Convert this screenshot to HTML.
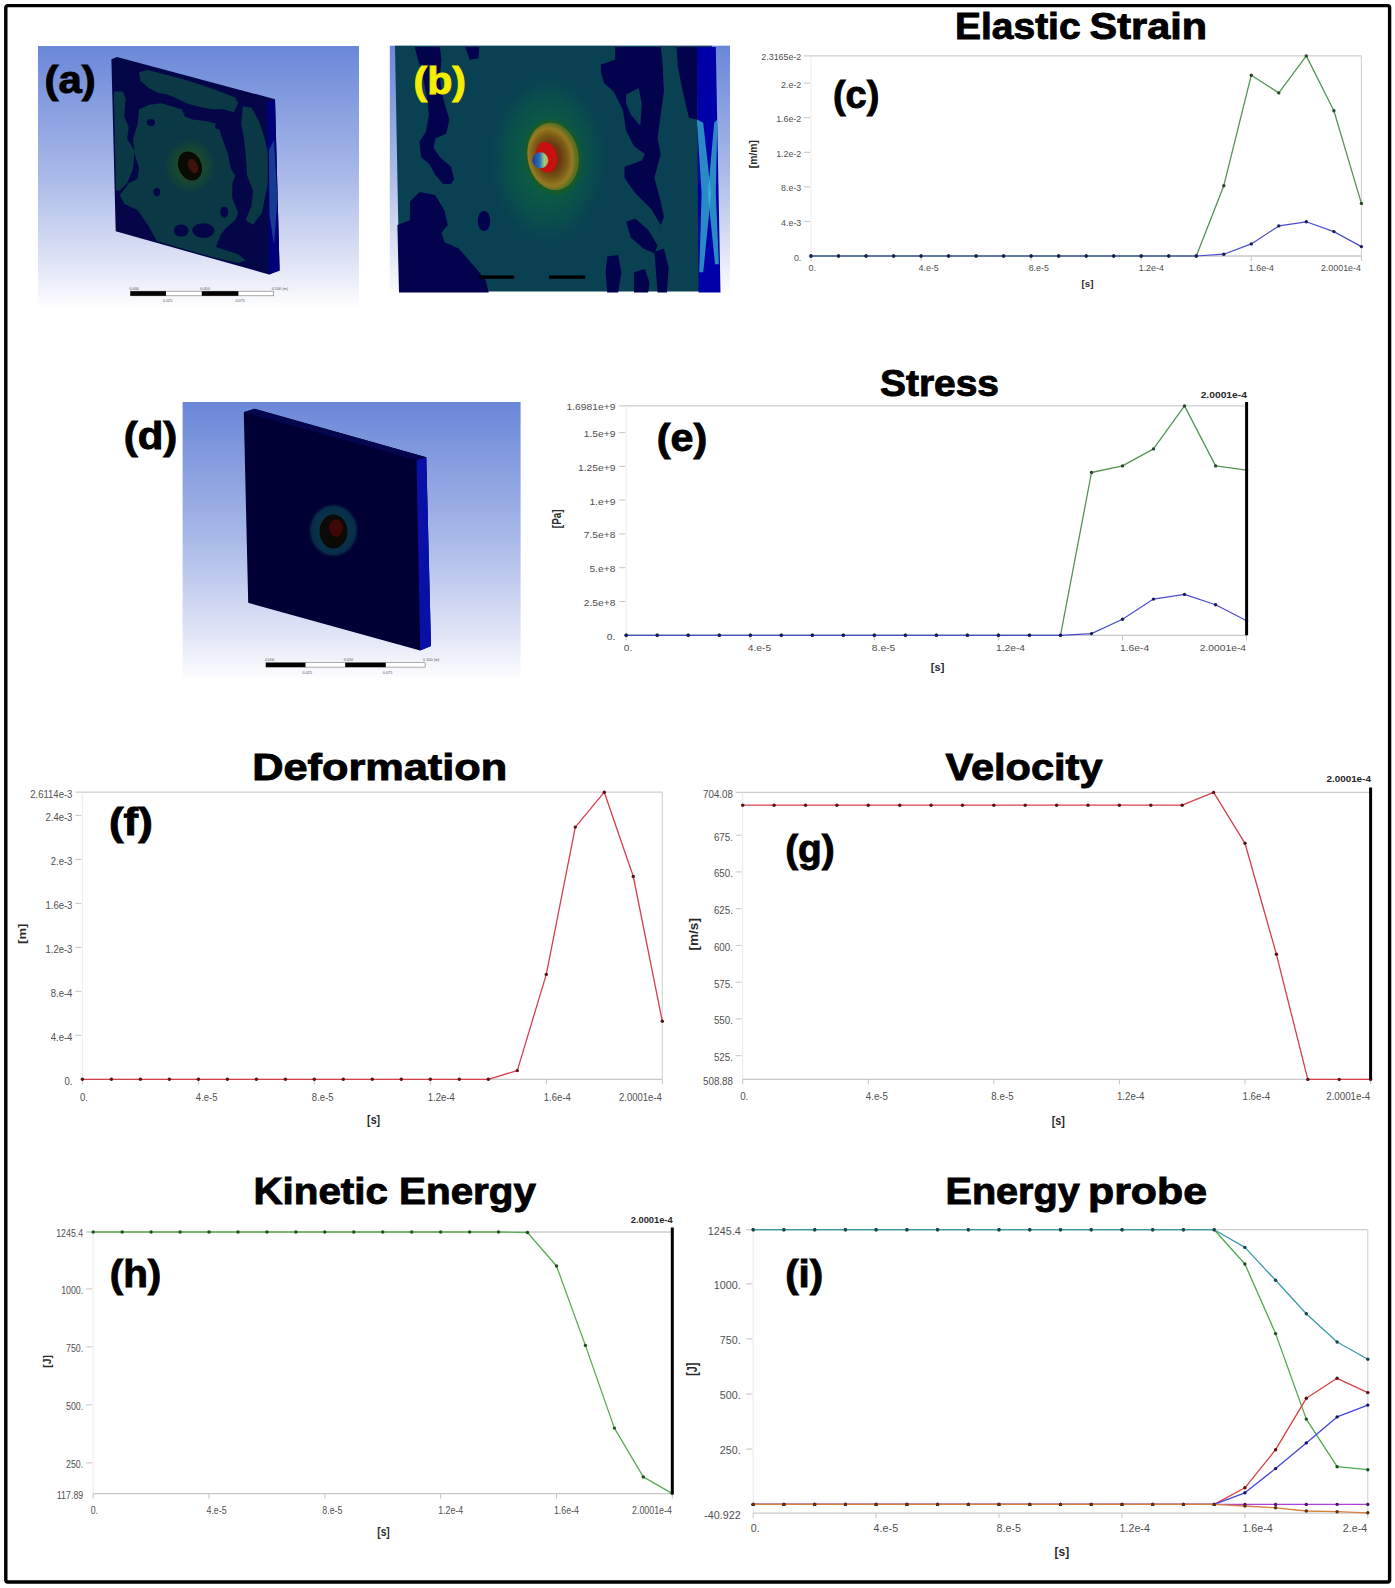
<!DOCTYPE html>
<html><head><meta charset="utf-8"><title>Figure</title>
<style>html,body{margin:0;padding:0;background:#fff;width:1395px;height:1588px;overflow:hidden}svg{display:block} text{font-family:"Liberation Sans", sans-serif}</style>
</head><body>
<svg width="1395" height="1588" viewBox="0 0 1395 1588" style="font-family:'Liberation Sans', sans-serif">
<defs><linearGradient id="bgA" x1="0" y1="0" x2="0" y2="1"><stop offset="0" stop-color="#6a87d8"/><stop offset="0.5" stop-color="#a9b9e8"/><stop offset="0.85" stop-color="#e2e6f6"/><stop offset="1" stop-color="#fdfdff"/></linearGradient><radialGradient id="hotA" cx="0.5" cy="0.5" r="0.5"><stop offset="0" stop-color="#6a1410"/><stop offset="0.5" stop-color="#200c06"/><stop offset="0.8" stop-color="#0e1a0c"/><stop offset="1" stop-color="#163a24" stop-opacity="0"/></radialGradient><radialGradient id="glowA" cx="0.5" cy="0.5" r="0.5"><stop offset="0" stop-color="#2a4a18"/><stop offset="0.45" stop-color="#1c4a2c"/><stop offset="0.75" stop-color="#124438" stop-opacity="0.7"/><stop offset="1" stop-color="#0a3844" stop-opacity="0"/></radialGradient><radialGradient id="hotB" cx="0.45" cy="0.5" r="0.5"><stop offset="0" stop-color="#7a1a0c"/><stop offset="0.4" stop-color="#6a3a10"/><stop offset="0.65" stop-color="#7a5a16"/><stop offset="0.85" stop-color="#967a22"/><stop offset="1" stop-color="#5a7020"/></radialGradient><radialGradient id="ringB" cx="0.5" cy="0.5" r="0.5"><stop offset="0.7" stop-color="#1a6a20"/><stop offset="1" stop-color="#1a6a40" stop-opacity="0"/></radialGradient><radialGradient id="glowB" cx="0.5" cy="0.5" r="0.5"><stop offset="0" stop-color="#0e6a36"/><stop offset="0.35" stop-color="#0c5c44"/><stop offset="0.7" stop-color="#0a504a" stop-opacity="0.85"/><stop offset="1" stop-color="#094152" stop-opacity="0"/></radialGradient><linearGradient id="ballB" x1="0" y1="0" x2="1" y2="0"><stop offset="0" stop-color="#1a3a9a"/><stop offset="0.45" stop-color="#2a70b0"/><stop offset="0.75" stop-color="#9ac890"/><stop offset="1" stop-color="#c8b040"/></linearGradient><radialGradient id="ringD" cx="0.5" cy="0.5" r="0.5"><stop offset="0.5" stop-color="#0c4850"/><stop offset="0.85" stop-color="#0a3a50"/><stop offset="1" stop-color="#010136" stop-opacity="0"/></radialGradient></defs>
<rect x="0" y="0" width="1395" height="1588" fill="#fff"/>
<rect x="38" y="46" width="321" height="260" fill="url(#bgA)"/>
<polygon points="111.4,59.2 117,57 275,99.2 279.6,270.5 269,274.5 115.7,231.3" fill="#040648"/>
<polygon points="267,101.5 275,99.2 279.6,270.5 269,274.5" fill="#00007a"/>
<polygon points="269,150 274,140 277.5,200 274,245 269.5,215" fill="#2a78a8" opacity="0.5"/>
<clipPath id="clipA"><polygon points="113,61 268,101 268.5,273 117,230"/></clipPath>
<g clip-path="url(#clipA)" fill="#0a3844">
<polygon points="139.0,72.2 149.4,69.2 171.6,75.2 193.8,82.6 216.0,90.0 235.3,97.4 238.2,103.3 233.8,112.2 223.4,109.2 211.6,109.2 196.8,106.2 186.4,103.3 174.6,97.4 167.2,94.4 158.3,92.9 149.4,88.5 140.5,81.1"/>
<polygon points="113.9,91.4 122.8,91.4 125.7,98.8 124.2,116.6 128.7,127.0 127.2,138.8 134.6,150.7 133.1,168.4 127.2,183.2 119.8,190.6 113.9,190.6"/>
<polygon points="139.0,109.2 149.4,104.8 161.2,103.3 171.6,106.2 182.0,109.2 184.9,116.6 192.3,119.6 205.7,121.0 217.5,124.0 220.5,132.9 223.4,141.8 227.9,153.6 230.8,168.4 235.3,175.8 232.3,183.2 232.3,198.0 235.3,205.4 238.2,212.8 235.3,220.2 226.4,227.6 220.5,235.0 216.0,246.9 238.2,254.3 245.6,260.2 238.2,263.1 193.8,252.8 156.8,240.9 149.4,227.6 137.6,209.9 124.2,203.9 119.8,195.1 128.7,183.2 137.6,178.8 139.0,168.4 134.6,153.6 133.1,138.8 137.6,124.0"/>
<polygon points="242.7,106.2 251.5,107.7 258.9,121.0 264.9,138.8 267.8,153.6 267.8,183.2 264.9,198.0 261.9,212.8 253.0,224.7 245.6,220.2 251.5,205.4 253.0,190.6 247.1,175.8 245.6,153.6 244.1,138.8 241.2,124.0"/>
</g>
<g fill="#040648">
<ellipse cx="150.9" cy="122.5" rx="4.1" ry="3.6"/>
<ellipse cx="156.8" cy="192.1" rx="3.3" ry="4.1"/>
<ellipse cx="181.2" cy="230.6" rx="7.4" ry="6.2"/>
<ellipse cx="203.4" cy="230.6" rx="11.1" ry="7.4"/>
<ellipse cx="224.2" cy="212.1" rx="4.1" ry="5.6"/>
<ellipse cx="219.0" cy="126.2" rx="3.8" ry="3.3"/>
<ellipse cx="233.8" cy="141.8" rx="3.3" ry="4.4"/>
</g>
<ellipse cx="190" cy="166" rx="28" ry="30" fill="url(#glowA)"/>
<ellipse cx="190" cy="166" rx="11.5" ry="15" fill="#0c0a05" transform="rotate(-22 190 166)"/>
<ellipse cx="193" cy="166" rx="4.5" ry="7.5" fill="#4a160c" opacity="0.8" transform="rotate(-22 193 166)"/>
<rect x="130.4" y="291.2" width="143.29999999999998" height="4.6" fill="#fff" stroke="#777" stroke-width="0.6"/>
<rect x="130.4" y="291.2" width="35.599999999999994" height="4.6" fill="#000"/>
<rect x="201.8" y="291.2" width="36.599999999999994" height="4.6" fill="#000"/>
<g font-size="3.8" fill="#555">
<text x="129.4" y="289.59999999999997">0.000</text>
<text x="200.3" y="289.59999999999997">0.050</text>
<text x="271.7" y="289.59999999999997">0.100 (m)</text>
<text x="163" y="302.3">0.025</text>
<text x="235.4" y="302.3">0.075</text>
</g>
<rect x="389.8" y="45.7" width="340.2" height="246" fill="url(#bgA)"/>
<polygon points="395,45.7 712,45.7 716,291.6 399.5,291.6" fill="#094152"/>
<ellipse cx="548" cy="159" rx="62" ry="90" fill="url(#glowB)"/>
<g fill="#02034c">
<polygon points="414.8,47.1 439.9,47.1 441.5,59.7 439.9,75.5 441.5,91.2 444.6,103.8 449.4,119.5 446.2,133.7 435.2,138.4 433.6,147.9 439.9,157.3 450.9,166.7 454.1,179.3 450.9,184.0 443.1,184.0 435.2,174.6 428.9,163.6 421.0,157.3 419.5,141.6 425.8,132.1 428.9,114.8 427.3,99.1 422.6,75.5 417.9,59.7"/>
<polygon points="465.1,47.1 479.3,47.1 478.5,58.2 469.8,59.7"/>
<polygon points="397.4,225.0 410.0,220.2 410.0,201.4 419.5,191.9 435.2,195.1 444.6,210.8 447.8,225.0 441.5,232.8 444.6,242.3 458.8,248.6 469.8,261.2 479.3,272.2 485.6,280.0 488.7,292.6 399.0,292.6"/>
<ellipse cx="484.0" cy="221.0" rx="6.3" ry="10.2"/>
<polygon points="600.9,64.5 615.1,59.7 615.1,47.1 660.7,47.1 662.3,59.7 663.9,91.2 660.7,114.8 657.6,138.4 660.7,154.1 654.4,177.8 660.7,201.4 663.9,217.1 660.7,225.0 651.3,209.2 635.5,193.5 624.5,177.8 624.5,166.7 641.8,160.4 645.0,154.1 634.0,146.3 626.1,130.5 622.9,110.1 613.5,91.2 604.1,83.3 600.9,72.3"/>
<polygon points="676.4,47.1 696.9,47.1 697.2,119.5 689.0,118.0 682.7,91.2 678.0,67.6"/>
<polygon points="626.1,221.8 635.5,218.7 648.1,229.7 657.6,245.4 654.4,253.3 643.4,248.6 630.8,237.5"/>
<polygon points="607.2,256.4 618.2,254.9 621.4,272.2 618.2,292.6 607.2,292.6 605.6,272.2"/>
<polygon points="634.0,272.2 645.0,269.0 649.7,283.2 648.1,292.6 634.0,292.6"/>
<polygon points="654.4,251.7 663.9,248.6 668.6,267.4 667.0,292.6 657.6,292.6 656.0,272.2"/>
</g>
<polygon points="626.1,94.4 638.7,88.1 641.8,103.8 640.3,125.8 630.8,114.8 626.1,103.8" fill="#094152"/>
<ellipse cx="553" cy="157" rx="29" ry="38" fill="#1a5a22" opacity="0.7" transform="rotate(-10 553 157)"/>
<ellipse cx="553" cy="156.5" rx="25.5" ry="34" fill="url(#hotB)" transform="rotate(-10 553 156.5)"/>
<ellipse cx="546.3" cy="157.3" rx="10.5" ry="15.5" fill="#c81010" transform="rotate(-10 546.3 157.3)"/>
<circle cx="540.3" cy="160.3" r="8" fill="url(#ballB)"/>
<polygon points="696.9,47.1 715.8,47.1 720.5,292.6 698.5,292.6" fill="#0000a8"/>
<polygon points="696.9,119.5 703.2,122.7 711.1,193.5 703.2,272.2 699.3,272.2 701.6,193.5" fill="#38b8d0" opacity="0.75"/>
<polygon points="717.4,119.5 714.2,122.7 707.9,193.5 715.0,264.3 718.9,264.3 715.8,193.5" fill="#38b8d0" opacity="0.75"/>
<rect x="479.4" y="275.4" width="34.8" height="3.4" fill="#000"/>
<rect x="549" y="275.4" width="36.2" height="3.4" fill="#000"/>
<rect x="182.6" y="402" width="338" height="276" fill="url(#bgA)"/>
<polygon points="243.8,412.3 254.4,408.8 426.3,457.3 431,646 420.2,650.4 248.2,602.8" fill="#000034"/>
<polygon points="416.5,460 426.3,457.3 431,646 420.2,650.4" fill="#0810a8"/>
<polygon points="243.8,412.3 254.4,408.8 426.3,457.3 416.5,460" fill="#05074e"/>
<ellipse cx="333.5" cy="530.5" rx="26" ry="28" fill="url(#ringD)" opacity="0.75"/>
<ellipse cx="333.5" cy="531.5" rx="14" ry="17" fill="#0c0a06"/>
<ellipse cx="336" cy="528" rx="7" ry="9" fill="#4a0808" opacity="0.8"/>
<rect x="265.9" y="662.6999999999999" width="159.20000000000005" height="4.4" fill="#fff" stroke="#777" stroke-width="0.6"/>
<rect x="265.9" y="662.6999999999999" width="39.60000000000002" height="4.4" fill="#000"/>
<rect x="345.2" y="662.6999999999999" width="40.60000000000002" height="4.4" fill="#000"/>
<g font-size="3.8" fill="#555">
<text x="264.9" y="661.0999999999999">0.000</text>
<text x="343.7" y="661.0999999999999">0.050</text>
<text x="423.1" y="661.0999999999999">0.100 (m)</text>
<text x="302.5" y="673.6">0.025</text>
<text x="382.8" y="673.6">0.075</text>
</g>
<line x1="804.0" y1="55.8" x2="1361.4" y2="55.8" stroke="#cdcdcd" stroke-width="1.3"/>
<line x1="1361.4" y1="55.8" x2="1361.4" y2="256.0" stroke="#d2d2d2" stroke-width="1.1"/>
<line x1="811.0" y1="55.8" x2="811.0" y2="256.0" stroke="#eeeeee" stroke-width="1.2"/>
<line x1="811.0" y1="256.0" x2="1361.4" y2="256.0" stroke="#c8c8c8" stroke-width="1.3"/>
<text transform="translate(801.30 260.55) scale(1.010 1)" font-size="8.8" text-anchor="end" fill="#505050">0.</text>
<line x1="804.0" y1="221.4" x2="810.0" y2="221.4" stroke="#c4c4c4" stroke-width="1"/>
<text transform="translate(801.30 225.98) scale(1.010 1)" font-size="8.8" text-anchor="end" fill="#505050">4.e-3</text>
<line x1="804.0" y1="186.9" x2="810.0" y2="186.9" stroke="#c4c4c4" stroke-width="1"/>
<text transform="translate(801.30 191.41) scale(1.010 1)" font-size="8.8" text-anchor="end" fill="#505050">8.e-3</text>
<line x1="804.0" y1="152.3" x2="810.0" y2="152.3" stroke="#c4c4c4" stroke-width="1"/>
<text transform="translate(801.30 156.84) scale(1.010 1)" font-size="8.8" text-anchor="end" fill="#505050">1.2e-2</text>
<line x1="804.0" y1="117.7" x2="810.0" y2="117.7" stroke="#c4c4c4" stroke-width="1"/>
<text transform="translate(801.30 122.27) scale(1.010 1)" font-size="8.8" text-anchor="end" fill="#505050">1.6e-2</text>
<line x1="804.0" y1="83.2" x2="810.0" y2="83.2" stroke="#c4c4c4" stroke-width="1"/>
<text transform="translate(801.30 87.70) scale(1.010 1)" font-size="8.8" text-anchor="end" fill="#505050">2.e-2</text>
<text transform="translate(801.30 60.35) scale(1.010 1)" font-size="8.8" text-anchor="end" fill="#505050">2.3165e-2</text>
<line x1="811.0" y1="256.0" x2="811.0" y2="261.0" stroke="#c4c4c4" stroke-width="1"/>
<text transform="translate(808.50 271.45) scale(1.010 1)" font-size="8.8" fill="#505050">0.</text>
<line x1="921.1" y1="256.0" x2="921.1" y2="261.0" stroke="#c4c4c4" stroke-width="1"/>
<text transform="translate(918.57 271.45) scale(1.010 1)" font-size="8.8" fill="#505050">4.e-5</text>
<line x1="1031.1" y1="256.0" x2="1031.1" y2="261.0" stroke="#c4c4c4" stroke-width="1"/>
<text transform="translate(1028.65 271.45) scale(1.010 1)" font-size="8.8" fill="#505050">8.e-5</text>
<line x1="1141.2" y1="256.0" x2="1141.2" y2="261.0" stroke="#c4c4c4" stroke-width="1"/>
<text transform="translate(1138.72 271.45) scale(1.010 1)" font-size="8.8" fill="#505050">1.2e-4</text>
<line x1="1251.3" y1="256.0" x2="1251.3" y2="261.0" stroke="#c4c4c4" stroke-width="1"/>
<text transform="translate(1248.80 271.45) scale(1.010 1)" font-size="8.8" fill="#505050">1.6e-4</text>
<line x1="1361.4" y1="256.0" x2="1361.4" y2="261.0" stroke="#c4c4c4" stroke-width="1"/>
<text transform="translate(1360.90 271.45) scale(1.010 1)" font-size="8.8" text-anchor="end" fill="#505050">2.0001e-4</text>
<polyline points="811.0,256.0 838.5,256.0 866.0,256.0 893.6,256.0 921.1,256.0 948.6,256.0 976.1,256.0 1003.6,256.0 1031.1,256.0 1058.7,256.0 1086.2,256.0 1113.7,256.0 1141.2,256.0 1168.7,256.0 1196.3,256.0 1223.8,185.7 1251.3,75.2 1278.8,92.9 1306.3,55.9 1333.9,110.7 1361.4,203.4" fill="none" stroke="#559455" stroke-width="1.3" stroke-linejoin="round"/>
<circle cx="811.0" cy="256.0" r="1.7" fill="#2a452a"/>
<circle cx="838.5" cy="256.0" r="1.7" fill="#2a452a"/>
<circle cx="866.0" cy="256.0" r="1.7" fill="#2a452a"/>
<circle cx="893.6" cy="256.0" r="1.7" fill="#2a452a"/>
<circle cx="921.1" cy="256.0" r="1.7" fill="#2a452a"/>
<circle cx="948.6" cy="256.0" r="1.7" fill="#2a452a"/>
<circle cx="976.1" cy="256.0" r="1.7" fill="#2a452a"/>
<circle cx="1003.6" cy="256.0" r="1.7" fill="#2a452a"/>
<circle cx="1031.1" cy="256.0" r="1.7" fill="#2a452a"/>
<circle cx="1058.7" cy="256.0" r="1.7" fill="#2a452a"/>
<circle cx="1086.2" cy="256.0" r="1.7" fill="#2a452a"/>
<circle cx="1113.7" cy="256.0" r="1.7" fill="#2a452a"/>
<circle cx="1141.2" cy="256.0" r="1.7" fill="#2a452a"/>
<circle cx="1168.7" cy="256.0" r="1.7" fill="#2a452a"/>
<circle cx="1196.3" cy="256.0" r="1.7" fill="#2a452a"/>
<circle cx="1223.8" cy="185.7" r="1.7" fill="#2a452a"/>
<circle cx="1251.3" cy="75.2" r="1.7" fill="#2a452a"/>
<circle cx="1278.8" cy="92.9" r="1.7" fill="#2a452a"/>
<circle cx="1306.3" cy="55.9" r="1.7" fill="#2a452a"/>
<circle cx="1333.9" cy="110.7" r="1.7" fill="#2a452a"/>
<circle cx="1361.4" cy="203.4" r="1.7" fill="#2a452a"/>
<polyline points="811.0,256.0 838.5,256.0 866.0,256.0 893.6,256.0 921.1,256.0 948.6,256.0 976.1,256.0 1003.6,256.0 1031.1,256.0 1058.7,256.0 1086.2,256.0 1113.7,256.0 1141.2,256.0 1168.7,256.0 1196.3,256.0 1223.8,254.2 1251.3,243.9 1278.8,225.9 1306.3,221.8 1333.9,231.6 1361.4,246.6" fill="none" stroke="#4c4cd0" stroke-width="1.2" stroke-linejoin="round"/>
<circle cx="811.0" cy="256.0" r="1.7" fill="#1a1a5a"/>
<circle cx="838.5" cy="256.0" r="1.7" fill="#1a1a5a"/>
<circle cx="866.0" cy="256.0" r="1.7" fill="#1a1a5a"/>
<circle cx="893.6" cy="256.0" r="1.7" fill="#1a1a5a"/>
<circle cx="921.1" cy="256.0" r="1.7" fill="#1a1a5a"/>
<circle cx="948.6" cy="256.0" r="1.7" fill="#1a1a5a"/>
<circle cx="976.1" cy="256.0" r="1.7" fill="#1a1a5a"/>
<circle cx="1003.6" cy="256.0" r="1.7" fill="#1a1a5a"/>
<circle cx="1031.1" cy="256.0" r="1.7" fill="#1a1a5a"/>
<circle cx="1058.7" cy="256.0" r="1.7" fill="#1a1a5a"/>
<circle cx="1086.2" cy="256.0" r="1.7" fill="#1a1a5a"/>
<circle cx="1113.7" cy="256.0" r="1.7" fill="#1a1a5a"/>
<circle cx="1141.2" cy="256.0" r="1.7" fill="#1a1a5a"/>
<circle cx="1168.7" cy="256.0" r="1.7" fill="#1a1a5a"/>
<circle cx="1196.3" cy="256.0" r="1.7" fill="#1a1a5a"/>
<circle cx="1223.8" cy="254.2" r="1.7" fill="#1a1a5a"/>
<circle cx="1251.3" cy="243.9" r="1.7" fill="#1a1a5a"/>
<circle cx="1278.8" cy="225.9" r="1.7" fill="#1a1a5a"/>
<circle cx="1306.3" cy="221.8" r="1.7" fill="#1a1a5a"/>
<circle cx="1333.9" cy="231.6" r="1.7" fill="#1a1a5a"/>
<circle cx="1361.4" cy="246.6" r="1.7" fill="#1a1a5a"/>
<text transform="translate(757.00 154.10) rotate(-90)" font-size="10.4" font-weight="bold" text-anchor="middle" fill="#2a2a2a">[m/m]</text>
<text transform="translate(1087.50 287.20) scale(1.020 1)" font-size="9.6" font-weight="bold" text-anchor="middle" fill="#2a2a2a">[s]</text>
<line x1="619.2" y1="405.8" x2="1246.6" y2="405.8" stroke="#cdcdcd" stroke-width="1.3"/>
<line x1="1246.6" y1="405.8" x2="1246.6" y2="635.3" stroke="#d2d2d2" stroke-width="1.1"/>
<line x1="626.2" y1="405.8" x2="626.2" y2="635.3" stroke="#eeeeee" stroke-width="1.2"/>
<line x1="626.2" y1="635.3" x2="1246.6" y2="635.3" stroke="#c8c8c8" stroke-width="1.3"/>
<text transform="translate(615.40 639.85) scale(1.170 1)" font-size="8.8" text-anchor="end" fill="#505050">0.</text>
<line x1="619.2" y1="601.5" x2="625.2" y2="601.5" stroke="#c4c4c4" stroke-width="1"/>
<text transform="translate(615.40 606.06) scale(1.170 1)" font-size="8.8" text-anchor="end" fill="#505050">2.5e+8</text>
<line x1="619.2" y1="567.7" x2="625.2" y2="567.7" stroke="#c4c4c4" stroke-width="1"/>
<text transform="translate(615.40 572.27) scale(1.170 1)" font-size="8.8" text-anchor="end" fill="#505050">5.e+8</text>
<line x1="619.2" y1="533.9" x2="625.2" y2="533.9" stroke="#c4c4c4" stroke-width="1"/>
<text transform="translate(615.40 538.49) scale(1.170 1)" font-size="8.8" text-anchor="end" fill="#505050">7.5e+8</text>
<line x1="619.2" y1="500.1" x2="625.2" y2="500.1" stroke="#c4c4c4" stroke-width="1"/>
<text transform="translate(615.40 504.70) scale(1.170 1)" font-size="8.8" text-anchor="end" fill="#505050">1.e+9</text>
<line x1="619.2" y1="466.4" x2="625.2" y2="466.4" stroke="#c4c4c4" stroke-width="1"/>
<text transform="translate(615.40 470.91) scale(1.170 1)" font-size="8.8" text-anchor="end" fill="#505050">1.25e+9</text>
<line x1="619.2" y1="432.6" x2="625.2" y2="432.6" stroke="#c4c4c4" stroke-width="1"/>
<text transform="translate(615.40 437.12) scale(1.170 1)" font-size="8.8" text-anchor="end" fill="#505050">1.5e+9</text>
<text transform="translate(615.40 410.35) scale(1.170 1)" font-size="8.8" text-anchor="end" fill="#505050">1.6981e+9</text>
<line x1="626.2" y1="635.3" x2="626.2" y2="640.3" stroke="#c4c4c4" stroke-width="1"/>
<text transform="translate(623.70 651.35) scale(1.170 1)" font-size="8.8" fill="#505050">0.</text>
<line x1="750.3" y1="635.3" x2="750.3" y2="640.3" stroke="#c4c4c4" stroke-width="1"/>
<text transform="translate(747.77 651.35) scale(1.170 1)" font-size="8.8" fill="#505050">4.e-5</text>
<line x1="874.3" y1="635.3" x2="874.3" y2="640.3" stroke="#c4c4c4" stroke-width="1"/>
<text transform="translate(871.85 651.35) scale(1.170 1)" font-size="8.8" fill="#505050">8.e-5</text>
<line x1="998.4" y1="635.3" x2="998.4" y2="640.3" stroke="#c4c4c4" stroke-width="1"/>
<text transform="translate(995.92 651.35) scale(1.170 1)" font-size="8.8" fill="#505050">1.2e-4</text>
<line x1="1122.5" y1="635.3" x2="1122.5" y2="640.3" stroke="#c4c4c4" stroke-width="1"/>
<text transform="translate(1120.00 651.35) scale(1.170 1)" font-size="8.8" fill="#505050">1.6e-4</text>
<line x1="1246.6" y1="635.3" x2="1246.6" y2="640.3" stroke="#c4c4c4" stroke-width="1"/>
<text transform="translate(1246.10 651.35) scale(1.170 1)" font-size="8.8" text-anchor="end" fill="#505050">2.0001e-4</text>
<polyline points="626.2,635.3 657.2,635.3 688.2,635.3 719.3,635.3 750.3,635.3 781.3,635.3 812.3,635.3 843.3,635.3 874.3,635.3 905.4,635.3 936.4,635.3 967.4,635.3 998.4,635.3 1029.4,635.3 1060.5,635.3 1091.5,472.5 1122.5,465.9 1153.5,448.9 1184.5,405.9 1215.6,465.9 1246.6,470.1" fill="none" stroke="#559455" stroke-width="1.3" stroke-linejoin="round"/>
<circle cx="626.2" cy="635.3" r="1.7" fill="#2a452a"/>
<circle cx="657.2" cy="635.3" r="1.7" fill="#2a452a"/>
<circle cx="688.2" cy="635.3" r="1.7" fill="#2a452a"/>
<circle cx="719.3" cy="635.3" r="1.7" fill="#2a452a"/>
<circle cx="750.3" cy="635.3" r="1.7" fill="#2a452a"/>
<circle cx="781.3" cy="635.3" r="1.7" fill="#2a452a"/>
<circle cx="812.3" cy="635.3" r="1.7" fill="#2a452a"/>
<circle cx="843.3" cy="635.3" r="1.7" fill="#2a452a"/>
<circle cx="874.3" cy="635.3" r="1.7" fill="#2a452a"/>
<circle cx="905.4" cy="635.3" r="1.7" fill="#2a452a"/>
<circle cx="936.4" cy="635.3" r="1.7" fill="#2a452a"/>
<circle cx="967.4" cy="635.3" r="1.7" fill="#2a452a"/>
<circle cx="998.4" cy="635.3" r="1.7" fill="#2a452a"/>
<circle cx="1029.4" cy="635.3" r="1.7" fill="#2a452a"/>
<circle cx="1060.5" cy="635.3" r="1.7" fill="#2a452a"/>
<circle cx="1091.5" cy="472.5" r="1.7" fill="#2a452a"/>
<circle cx="1122.5" cy="465.9" r="1.7" fill="#2a452a"/>
<circle cx="1153.5" cy="448.9" r="1.7" fill="#2a452a"/>
<circle cx="1184.5" cy="405.9" r="1.7" fill="#2a452a"/>
<circle cx="1215.6" cy="465.9" r="1.7" fill="#2a452a"/>
<circle cx="1246.6" cy="470.1" r="1.7" fill="#2a452a"/>
<polyline points="626.2,635.3 657.2,635.3 688.2,635.3 719.3,635.3 750.3,635.3 781.3,635.3 812.3,635.3 843.3,635.3 874.3,635.3 905.4,635.3 936.4,635.3 967.4,635.3 998.4,635.3 1029.4,635.3 1060.5,635.3 1091.5,633.6 1122.5,619.3 1153.5,599.1 1184.5,594.4 1215.6,604.7 1246.6,620.8" fill="none" stroke="#4c4cd0" stroke-width="1.2" stroke-linejoin="round"/>
<circle cx="626.2" cy="635.3" r="1.7" fill="#1a1a5a"/>
<circle cx="657.2" cy="635.3" r="1.7" fill="#1a1a5a"/>
<circle cx="688.2" cy="635.3" r="1.7" fill="#1a1a5a"/>
<circle cx="719.3" cy="635.3" r="1.7" fill="#1a1a5a"/>
<circle cx="750.3" cy="635.3" r="1.7" fill="#1a1a5a"/>
<circle cx="781.3" cy="635.3" r="1.7" fill="#1a1a5a"/>
<circle cx="812.3" cy="635.3" r="1.7" fill="#1a1a5a"/>
<circle cx="843.3" cy="635.3" r="1.7" fill="#1a1a5a"/>
<circle cx="874.3" cy="635.3" r="1.7" fill="#1a1a5a"/>
<circle cx="905.4" cy="635.3" r="1.7" fill="#1a1a5a"/>
<circle cx="936.4" cy="635.3" r="1.7" fill="#1a1a5a"/>
<circle cx="967.4" cy="635.3" r="1.7" fill="#1a1a5a"/>
<circle cx="998.4" cy="635.3" r="1.7" fill="#1a1a5a"/>
<circle cx="1029.4" cy="635.3" r="1.7" fill="#1a1a5a"/>
<circle cx="1060.5" cy="635.3" r="1.7" fill="#1a1a5a"/>
<circle cx="1091.5" cy="633.6" r="1.7" fill="#1a1a5a"/>
<circle cx="1122.5" cy="619.3" r="1.7" fill="#1a1a5a"/>
<circle cx="1153.5" cy="599.1" r="1.7" fill="#1a1a5a"/>
<circle cx="1184.5" cy="594.4" r="1.7" fill="#1a1a5a"/>
<circle cx="1215.6" cy="604.7" r="1.7" fill="#1a1a5a"/>
<circle cx="1246.6" cy="620.8" r="1.7" fill="#1a1a5a"/>
<line x1="1246.6" y1="402.0" x2="1246.6" y2="635.3" stroke="#000" stroke-width="3"/>
<text transform="translate(1246.90 397.90) scale(1.070 1)" font-size="9.6" font-weight="bold" text-anchor="end" fill="#282828">2.0001e-4</text>
<text transform="translate(561.00 518.80) rotate(-90) scale(0.800 1)" font-size="12.4" font-weight="bold" text-anchor="middle" fill="#2a2a2a">[Pa]</text>
<text transform="translate(937.60 671.20) scale(1.060 1)" font-size="10.4" font-weight="bold" text-anchor="middle" fill="#2a2a2a">[s]</text>
<line x1="75.4" y1="792.2" x2="662.3" y2="792.2" stroke="#cdcdcd" stroke-width="1.3"/>
<line x1="662.3" y1="792.2" x2="662.3" y2="1079.3" stroke="#d2d2d2" stroke-width="1.1"/>
<line x1="82.4" y1="792.2" x2="82.4" y2="1079.3" stroke="#eeeeee" stroke-width="1.2"/>
<line x1="82.4" y1="1079.3" x2="662.3" y2="1079.3" stroke="#c8c8c8" stroke-width="1.3"/>
<text transform="translate(72.40 1084.71) scale(0.850 1)" font-size="11.2" text-anchor="end" fill="#505050">0.</text>
<line x1="75.4" y1="1035.3" x2="81.4" y2="1035.3" stroke="#c4c4c4" stroke-width="1"/>
<text transform="translate(72.40 1040.73) scale(0.850 1)" font-size="11.2" text-anchor="end" fill="#505050">4.e-4</text>
<line x1="75.4" y1="991.3" x2="81.4" y2="991.3" stroke="#c4c4c4" stroke-width="1"/>
<text transform="translate(72.40 996.76) scale(0.850 1)" font-size="11.2" text-anchor="end" fill="#505050">8.e-4</text>
<line x1="75.4" y1="947.4" x2="81.4" y2="947.4" stroke="#c4c4c4" stroke-width="1"/>
<text transform="translate(72.40 952.78) scale(0.850 1)" font-size="11.2" text-anchor="end" fill="#505050">1.2e-3</text>
<line x1="75.4" y1="903.4" x2="81.4" y2="903.4" stroke="#c4c4c4" stroke-width="1"/>
<text transform="translate(72.40 908.80) scale(0.850 1)" font-size="11.2" text-anchor="end" fill="#505050">1.6e-3</text>
<line x1="75.4" y1="859.4" x2="81.4" y2="859.4" stroke="#c4c4c4" stroke-width="1"/>
<text transform="translate(72.40 864.83) scale(0.850 1)" font-size="11.2" text-anchor="end" fill="#505050">2.e-3</text>
<line x1="75.4" y1="815.4" x2="81.4" y2="815.4" stroke="#c4c4c4" stroke-width="1"/>
<text transform="translate(72.40 820.85) scale(0.850 1)" font-size="11.2" text-anchor="end" fill="#505050">2.4e-3</text>
<text transform="translate(72.40 797.61) scale(0.850 1)" font-size="11.2" text-anchor="end" fill="#505050">2.6114e-3</text>
<line x1="82.4" y1="1079.3" x2="82.4" y2="1084.3" stroke="#c4c4c4" stroke-width="1"/>
<text transform="translate(79.90 1100.91) scale(0.850 1)" font-size="11.2" fill="#505050">0.</text>
<line x1="198.4" y1="1079.3" x2="198.4" y2="1084.3" stroke="#c4c4c4" stroke-width="1"/>
<text transform="translate(195.87 1100.91) scale(0.850 1)" font-size="11.2" fill="#505050">4.e-5</text>
<line x1="314.3" y1="1079.3" x2="314.3" y2="1084.3" stroke="#c4c4c4" stroke-width="1"/>
<text transform="translate(311.85 1100.91) scale(0.850 1)" font-size="11.2" fill="#505050">8.e-5</text>
<line x1="430.3" y1="1079.3" x2="430.3" y2="1084.3" stroke="#c4c4c4" stroke-width="1"/>
<text transform="translate(427.82 1100.91) scale(0.850 1)" font-size="11.2" fill="#505050">1.2e-4</text>
<line x1="546.3" y1="1079.3" x2="546.3" y2="1084.3" stroke="#c4c4c4" stroke-width="1"/>
<text transform="translate(543.80 1100.91) scale(0.850 1)" font-size="11.2" fill="#505050">1.6e-4</text>
<line x1="662.3" y1="1079.3" x2="662.3" y2="1084.3" stroke="#c4c4c4" stroke-width="1"/>
<text transform="translate(661.80 1100.91) scale(0.850 1)" font-size="11.2" text-anchor="end" fill="#505050">2.0001e-4</text>
<polyline points="82.4,1079.3 111.4,1079.3 140.4,1079.3 169.4,1079.3 198.4,1079.3 227.4,1079.3 256.4,1079.3 285.4,1079.3 314.3,1079.3 343.3,1079.3 372.3,1079.3 401.3,1079.3 430.3,1079.3 459.3,1079.3 488.3,1079.3 517.3,1070.6 546.3,974.4 575.3,827.1 604.3,792.2 633.3,876.5 662.3,1021.2" fill="none" stroke="#d6404a" stroke-width="1.3" stroke-linejoin="round"/>
<circle cx="82.4" cy="1079.3" r="1.7" fill="#5a1018"/>
<circle cx="111.4" cy="1079.3" r="1.7" fill="#5a1018"/>
<circle cx="140.4" cy="1079.3" r="1.7" fill="#5a1018"/>
<circle cx="169.4" cy="1079.3" r="1.7" fill="#5a1018"/>
<circle cx="198.4" cy="1079.3" r="1.7" fill="#5a1018"/>
<circle cx="227.4" cy="1079.3" r="1.7" fill="#5a1018"/>
<circle cx="256.4" cy="1079.3" r="1.7" fill="#5a1018"/>
<circle cx="285.4" cy="1079.3" r="1.7" fill="#5a1018"/>
<circle cx="314.3" cy="1079.3" r="1.7" fill="#5a1018"/>
<circle cx="343.3" cy="1079.3" r="1.7" fill="#5a1018"/>
<circle cx="372.3" cy="1079.3" r="1.7" fill="#5a1018"/>
<circle cx="401.3" cy="1079.3" r="1.7" fill="#5a1018"/>
<circle cx="430.3" cy="1079.3" r="1.7" fill="#5a1018"/>
<circle cx="459.3" cy="1079.3" r="1.7" fill="#5a1018"/>
<circle cx="488.3" cy="1079.3" r="1.7" fill="#5a1018"/>
<circle cx="517.3" cy="1070.6" r="1.7" fill="#5a1018"/>
<circle cx="546.3" cy="974.4" r="1.7" fill="#5a1018"/>
<circle cx="575.3" cy="827.1" r="1.7" fill="#5a1018"/>
<circle cx="604.3" cy="792.2" r="1.7" fill="#5a1018"/>
<circle cx="633.3" cy="876.5" r="1.7" fill="#5a1018"/>
<circle cx="662.3" cy="1021.2" r="1.7" fill="#5a1018"/>
<text transform="translate(25.60 933.80) rotate(-90) scale(1.100 1)" font-size="11.8" font-weight="bold" text-anchor="middle" fill="#2a2a2a">[m]</text>
<text transform="translate(373.60 1124.20) scale(0.790 1)" font-size="13.5" font-weight="bold" text-anchor="middle" fill="#2a2a2a">[s]</text>
<line x1="735.7" y1="792.4" x2="1370.6" y2="792.4" stroke="#cdcdcd" stroke-width="1.3"/>
<line x1="1370.6" y1="792.4" x2="1370.6" y2="1079.4" stroke="#d2d2d2" stroke-width="1.1"/>
<line x1="742.7" y1="792.4" x2="742.7" y2="1079.4" stroke="#eeeeee" stroke-width="1.2"/>
<line x1="742.7" y1="1079.4" x2="1370.6" y2="1079.4" stroke="#c8c8c8" stroke-width="1.3"/>
<text transform="translate(732.90 1084.95) scale(0.840 1)" font-size="11.6" text-anchor="end" fill="#505050">508.88</text>
<line x1="735.7" y1="1055.7" x2="741.7" y2="1055.7" stroke="#c4c4c4" stroke-width="1"/>
<text transform="translate(732.90 1061.25) scale(0.840 1)" font-size="11.6" text-anchor="end" fill="#505050">525.</text>
<line x1="735.7" y1="1018.9" x2="741.7" y2="1018.9" stroke="#c4c4c4" stroke-width="1"/>
<text transform="translate(732.90 1024.49) scale(0.840 1)" font-size="11.6" text-anchor="end" fill="#505050">550.</text>
<line x1="735.7" y1="982.2" x2="741.7" y2="982.2" stroke="#c4c4c4" stroke-width="1"/>
<text transform="translate(732.90 987.74) scale(0.840 1)" font-size="11.6" text-anchor="end" fill="#505050">575.</text>
<line x1="735.7" y1="945.4" x2="741.7" y2="945.4" stroke="#c4c4c4" stroke-width="1"/>
<text transform="translate(732.90 950.98) scale(0.840 1)" font-size="11.6" text-anchor="end" fill="#505050">600.</text>
<line x1="735.7" y1="908.7" x2="741.7" y2="908.7" stroke="#c4c4c4" stroke-width="1"/>
<text transform="translate(732.90 914.22) scale(0.840 1)" font-size="11.6" text-anchor="end" fill="#505050">625.</text>
<line x1="735.7" y1="871.9" x2="741.7" y2="871.9" stroke="#c4c4c4" stroke-width="1"/>
<text transform="translate(732.90 877.47) scale(0.840 1)" font-size="11.6" text-anchor="end" fill="#505050">650.</text>
<line x1="735.7" y1="835.2" x2="741.7" y2="835.2" stroke="#c4c4c4" stroke-width="1"/>
<text transform="translate(732.90 840.71) scale(0.840 1)" font-size="11.6" text-anchor="end" fill="#505050">675.</text>
<text transform="translate(732.90 797.95) scale(0.840 1)" font-size="11.6" text-anchor="end" fill="#505050">704.08</text>
<line x1="742.7" y1="1079.4" x2="742.7" y2="1084.4" stroke="#c4c4c4" stroke-width="1"/>
<text transform="translate(740.20 1100.35) scale(0.840 1)" font-size="11.6" fill="#505050">0.</text>
<line x1="868.3" y1="1079.4" x2="868.3" y2="1084.4" stroke="#c4c4c4" stroke-width="1"/>
<text transform="translate(865.77 1100.35) scale(0.840 1)" font-size="11.6" fill="#505050">4.e-5</text>
<line x1="993.8" y1="1079.4" x2="993.8" y2="1084.4" stroke="#c4c4c4" stroke-width="1"/>
<text transform="translate(991.35 1100.35) scale(0.840 1)" font-size="11.6" fill="#505050">8.e-5</text>
<line x1="1119.4" y1="1079.4" x2="1119.4" y2="1084.4" stroke="#c4c4c4" stroke-width="1"/>
<text transform="translate(1116.92 1100.35) scale(0.840 1)" font-size="11.6" fill="#505050">1.2e-4</text>
<line x1="1245.0" y1="1079.4" x2="1245.0" y2="1084.4" stroke="#c4c4c4" stroke-width="1"/>
<text transform="translate(1242.49 1100.35) scale(0.840 1)" font-size="11.6" fill="#505050">1.6e-4</text>
<line x1="1370.6" y1="1079.4" x2="1370.6" y2="1084.4" stroke="#c4c4c4" stroke-width="1"/>
<text transform="translate(1370.10 1100.35) scale(0.840 1)" font-size="11.6" text-anchor="end" fill="#505050">2.0001e-4</text>
<polyline points="742.7,805.2 774.1,805.2 805.5,805.2 836.9,805.2 868.3,805.2 899.7,805.2 931.1,805.2 962.5,805.2 993.8,805.2 1025.2,805.2 1056.6,805.2 1088.0,805.2 1119.4,805.2 1150.8,805.2 1182.2,805.2 1213.6,792.4 1245.0,843.3 1276.4,954.3 1307.8,1079.4 1339.2,1079.4 1370.6,1079.4" fill="none" stroke="#d6404a" stroke-width="1.3" stroke-linejoin="round"/>
<circle cx="742.7" cy="805.2" r="1.7" fill="#5a1018"/>
<circle cx="774.1" cy="805.2" r="1.7" fill="#5a1018"/>
<circle cx="805.5" cy="805.2" r="1.7" fill="#5a1018"/>
<circle cx="836.9" cy="805.2" r="1.7" fill="#5a1018"/>
<circle cx="868.3" cy="805.2" r="1.7" fill="#5a1018"/>
<circle cx="899.7" cy="805.2" r="1.7" fill="#5a1018"/>
<circle cx="931.1" cy="805.2" r="1.7" fill="#5a1018"/>
<circle cx="962.5" cy="805.2" r="1.7" fill="#5a1018"/>
<circle cx="993.8" cy="805.2" r="1.7" fill="#5a1018"/>
<circle cx="1025.2" cy="805.2" r="1.7" fill="#5a1018"/>
<circle cx="1056.6" cy="805.2" r="1.7" fill="#5a1018"/>
<circle cx="1088.0" cy="805.2" r="1.7" fill="#5a1018"/>
<circle cx="1119.4" cy="805.2" r="1.7" fill="#5a1018"/>
<circle cx="1150.8" cy="805.2" r="1.7" fill="#5a1018"/>
<circle cx="1182.2" cy="805.2" r="1.7" fill="#5a1018"/>
<circle cx="1213.6" cy="792.4" r="1.7" fill="#5a1018"/>
<circle cx="1245.0" cy="843.3" r="1.7" fill="#5a1018"/>
<circle cx="1276.4" cy="954.3" r="1.7" fill="#5a1018"/>
<circle cx="1307.8" cy="1079.4" r="1.7" fill="#5a1018"/>
<circle cx="1339.2" cy="1079.4" r="1.7" fill="#5a1018"/>
<circle cx="1370.6" cy="1079.4" r="1.7" fill="#5a1018"/>
<line x1="1370.6" y1="787.5" x2="1370.6" y2="1079.4" stroke="#000" stroke-width="3"/>
<text transform="translate(1370.90 782.20) scale(1.030 1)" font-size="9.6" font-weight="bold" text-anchor="end" fill="#282828">2.0001e-4</text>
<text transform="translate(698.00 934.30) rotate(-90) scale(1.100 1)" font-size="12.4" font-weight="bold" text-anchor="middle" fill="#2a2a2a">[m/s]</text>
<text transform="translate(1058.30 1125.00) scale(0.790 1)" font-size="13.7" font-weight="bold" text-anchor="middle" fill="#2a2a2a">[s]</text>
<line x1="86.2" y1="1232.0" x2="672.3" y2="1232.0" stroke="#cdcdcd" stroke-width="1.3"/>
<line x1="672.3" y1="1232.0" x2="672.3" y2="1493.6" stroke="#d2d2d2" stroke-width="1.1"/>
<line x1="93.2" y1="1232.0" x2="93.2" y2="1493.6" stroke="#eeeeee" stroke-width="1.2"/>
<line x1="93.2" y1="1493.6" x2="672.3" y2="1493.6" stroke="#c8c8c8" stroke-width="1.3"/>
<text transform="translate(83.20 1498.90) scale(0.810 1)" font-size="10.9" text-anchor="end" fill="#505050">117.89</text>
<line x1="86.2" y1="1462.9" x2="92.2" y2="1462.9" stroke="#c4c4c4" stroke-width="1"/>
<text transform="translate(83.20 1468.25) scale(0.810 1)" font-size="10.9" text-anchor="end" fill="#505050">250.</text>
<line x1="86.2" y1="1404.9" x2="92.2" y2="1404.9" stroke="#c4c4c4" stroke-width="1"/>
<text transform="translate(83.20 1410.25) scale(0.810 1)" font-size="10.9" text-anchor="end" fill="#505050">500.</text>
<line x1="86.2" y1="1346.9" x2="92.2" y2="1346.9" stroke="#c4c4c4" stroke-width="1"/>
<text transform="translate(83.20 1352.24) scale(0.810 1)" font-size="10.9" text-anchor="end" fill="#505050">750.</text>
<line x1="86.2" y1="1288.9" x2="92.2" y2="1288.9" stroke="#c4c4c4" stroke-width="1"/>
<text transform="translate(83.20 1294.24) scale(0.810 1)" font-size="10.9" text-anchor="end" fill="#505050">1000.</text>
<text transform="translate(83.20 1237.30) scale(0.810 1)" font-size="10.9" text-anchor="end" fill="#505050">1245.4</text>
<line x1="93.2" y1="1493.6" x2="93.2" y2="1498.6" stroke="#c4c4c4" stroke-width="1"/>
<text transform="translate(90.70 1513.60) scale(0.810 1)" font-size="10.9" fill="#505050">0.</text>
<line x1="209.0" y1="1493.6" x2="209.0" y2="1498.6" stroke="#c4c4c4" stroke-width="1"/>
<text transform="translate(206.51 1513.60) scale(0.810 1)" font-size="10.9" fill="#505050">4.e-5</text>
<line x1="324.8" y1="1493.6" x2="324.8" y2="1498.6" stroke="#c4c4c4" stroke-width="1"/>
<text transform="translate(322.33 1513.60) scale(0.810 1)" font-size="10.9" fill="#505050">8.e-5</text>
<line x1="440.6" y1="1493.6" x2="440.6" y2="1498.6" stroke="#c4c4c4" stroke-width="1"/>
<text transform="translate(438.14 1513.60) scale(0.810 1)" font-size="10.9" fill="#505050">1.2e-4</text>
<line x1="556.5" y1="1493.6" x2="556.5" y2="1498.6" stroke="#c4c4c4" stroke-width="1"/>
<text transform="translate(553.96 1513.60) scale(0.810 1)" font-size="10.9" fill="#505050">1.6e-4</text>
<line x1="672.3" y1="1493.6" x2="672.3" y2="1498.6" stroke="#c4c4c4" stroke-width="1"/>
<text transform="translate(671.80 1513.60) scale(0.810 1)" font-size="10.9" text-anchor="end" fill="#505050">2.0001e-4</text>
<polyline points="93.2,1232.0 122.2,1232.0 151.1,1232.0 180.1,1232.0 209.0,1232.0 238.0,1232.0 266.9,1232.0 295.9,1232.0 324.8,1232.0 353.8,1232.0 382.7,1232.0 411.7,1232.0 440.6,1232.0 469.6,1232.0 498.5,1232.0 527.5,1232.5 556.5,1266.0 585.4,1345.4 614.4,1428.1 643.3,1476.9 672.3,1493.6" fill="none" stroke="#5aab55" stroke-width="1.3" stroke-linejoin="round"/>
<circle cx="93.2" cy="1232.0" r="1.7" fill="#1f4f1f"/>
<circle cx="122.2" cy="1232.0" r="1.7" fill="#1f4f1f"/>
<circle cx="151.1" cy="1232.0" r="1.7" fill="#1f4f1f"/>
<circle cx="180.1" cy="1232.0" r="1.7" fill="#1f4f1f"/>
<circle cx="209.0" cy="1232.0" r="1.7" fill="#1f4f1f"/>
<circle cx="238.0" cy="1232.0" r="1.7" fill="#1f4f1f"/>
<circle cx="266.9" cy="1232.0" r="1.7" fill="#1f4f1f"/>
<circle cx="295.9" cy="1232.0" r="1.7" fill="#1f4f1f"/>
<circle cx="324.8" cy="1232.0" r="1.7" fill="#1f4f1f"/>
<circle cx="353.8" cy="1232.0" r="1.7" fill="#1f4f1f"/>
<circle cx="382.7" cy="1232.0" r="1.7" fill="#1f4f1f"/>
<circle cx="411.7" cy="1232.0" r="1.7" fill="#1f4f1f"/>
<circle cx="440.6" cy="1232.0" r="1.7" fill="#1f4f1f"/>
<circle cx="469.6" cy="1232.0" r="1.7" fill="#1f4f1f"/>
<circle cx="498.5" cy="1232.0" r="1.7" fill="#1f4f1f"/>
<circle cx="527.5" cy="1232.5" r="1.7" fill="#1f4f1f"/>
<circle cx="556.5" cy="1266.0" r="1.7" fill="#1f4f1f"/>
<circle cx="585.4" cy="1345.4" r="1.7" fill="#1f4f1f"/>
<circle cx="614.4" cy="1428.1" r="1.7" fill="#1f4f1f"/>
<circle cx="643.3" cy="1476.9" r="1.7" fill="#1f4f1f"/>
<circle cx="672.3" cy="1493.6" r="1.7" fill="#1f4f1f"/>
<line x1="672.3" y1="1227.4" x2="672.3" y2="1493.6" stroke="#000" stroke-width="3"/>
<text transform="translate(672.60 1222.50) scale(0.990 1)" font-size="9.4" font-weight="bold" text-anchor="end" fill="#282828">2.0001e-4</text>
<text transform="translate(50.70 1361.40) rotate(-90) scale(0.900 1)" font-size="11.5" font-weight="bold" text-anchor="middle" fill="#2a2a2a">[J]</text>
<text transform="translate(383.50 1535.70) scale(0.840 1)" font-size="12.1" font-weight="bold" text-anchor="middle" fill="#2a2a2a">[s]</text>
<line x1="746.2" y1="1229.7" x2="1367.8" y2="1229.7" stroke="#cdcdcd" stroke-width="1.3"/>
<line x1="1367.8" y1="1229.7" x2="1367.8" y2="1513.2" stroke="#d2d2d2" stroke-width="1.1"/>
<line x1="753.2" y1="1229.7" x2="753.2" y2="1513.2" stroke="#eeeeee" stroke-width="1.2"/>
<line x1="753.2" y1="1513.2" x2="1367.8" y2="1513.2" stroke="#c8c8c8" stroke-width="1.3"/>
<text transform="translate(740.70 1518.61) scale(0.960 1)" font-size="11.2" text-anchor="end" fill="#505050">-40.922</text>
<line x1="746.2" y1="1449.1" x2="752.2" y2="1449.1" stroke="#c4c4c4" stroke-width="1"/>
<text transform="translate(740.70 1454.49) scale(0.960 1)" font-size="11.2" text-anchor="end" fill="#505050">250.</text>
<line x1="746.2" y1="1394.0" x2="752.2" y2="1394.0" stroke="#c4c4c4" stroke-width="1"/>
<text transform="translate(740.70 1399.39) scale(0.960 1)" font-size="11.2" text-anchor="end" fill="#505050">500.</text>
<line x1="746.2" y1="1338.9" x2="752.2" y2="1338.9" stroke="#c4c4c4" stroke-width="1"/>
<text transform="translate(740.70 1344.29) scale(0.960 1)" font-size="11.2" text-anchor="end" fill="#505050">750.</text>
<line x1="746.2" y1="1283.8" x2="752.2" y2="1283.8" stroke="#c4c4c4" stroke-width="1"/>
<text transform="translate(740.70 1289.19) scale(0.960 1)" font-size="11.2" text-anchor="end" fill="#505050">1000.</text>
<text transform="translate(740.70 1235.11) scale(0.960 1)" font-size="11.2" text-anchor="end" fill="#505050">1245.4</text>
<line x1="753.2" y1="1513.2" x2="753.2" y2="1518.2" stroke="#c4c4c4" stroke-width="1"/>
<text transform="translate(750.70 1532.01) scale(0.960 1)" font-size="11.2" fill="#505050">0.</text>
<line x1="876.1" y1="1513.2" x2="876.1" y2="1518.2" stroke="#c4c4c4" stroke-width="1"/>
<text transform="translate(873.62 1532.01) scale(0.960 1)" font-size="11.2" fill="#505050">4.e-5</text>
<line x1="999.0" y1="1513.2" x2="999.0" y2="1518.2" stroke="#c4c4c4" stroke-width="1"/>
<text transform="translate(996.54 1532.01) scale(0.960 1)" font-size="11.2" fill="#505050">8.e-5</text>
<line x1="1122.0" y1="1513.2" x2="1122.0" y2="1518.2" stroke="#c4c4c4" stroke-width="1"/>
<text transform="translate(1119.46 1532.01) scale(0.960 1)" font-size="11.2" fill="#505050">1.2e-4</text>
<line x1="1244.9" y1="1513.2" x2="1244.9" y2="1518.2" stroke="#c4c4c4" stroke-width="1"/>
<text transform="translate(1242.38 1532.01) scale(0.960 1)" font-size="11.2" fill="#505050">1.6e-4</text>
<line x1="1367.8" y1="1513.2" x2="1367.8" y2="1518.2" stroke="#c4c4c4" stroke-width="1"/>
<text transform="translate(1367.30 1532.01) scale(0.960 1)" font-size="11.2" text-anchor="end" fill="#505050">2.e-4</text>
<polyline points="753.2,1229.7 783.9,1229.7 814.7,1229.7 845.4,1229.7 876.1,1229.7 906.9,1229.7 937.6,1229.7 968.3,1229.7 999.0,1229.7 1029.8,1229.7 1060.5,1229.7 1091.2,1229.7 1122.0,1229.7 1152.7,1229.7 1183.4,1229.7 1214.2,1229.7 1244.9,1264.0 1275.6,1333.6 1306.3,1419.1 1337.1,1466.7 1367.8,1469.7" fill="none" stroke="#50a850" stroke-width="1.3" stroke-linejoin="round"/>
<circle cx="753.2" cy="1229.7" r="1.7" fill="#1f4f1f"/>
<circle cx="783.9" cy="1229.7" r="1.7" fill="#1f4f1f"/>
<circle cx="814.7" cy="1229.7" r="1.7" fill="#1f4f1f"/>
<circle cx="845.4" cy="1229.7" r="1.7" fill="#1f4f1f"/>
<circle cx="876.1" cy="1229.7" r="1.7" fill="#1f4f1f"/>
<circle cx="906.9" cy="1229.7" r="1.7" fill="#1f4f1f"/>
<circle cx="937.6" cy="1229.7" r="1.7" fill="#1f4f1f"/>
<circle cx="968.3" cy="1229.7" r="1.7" fill="#1f4f1f"/>
<circle cx="999.0" cy="1229.7" r="1.7" fill="#1f4f1f"/>
<circle cx="1029.8" cy="1229.7" r="1.7" fill="#1f4f1f"/>
<circle cx="1060.5" cy="1229.7" r="1.7" fill="#1f4f1f"/>
<circle cx="1091.2" cy="1229.7" r="1.7" fill="#1f4f1f"/>
<circle cx="1122.0" cy="1229.7" r="1.7" fill="#1f4f1f"/>
<circle cx="1152.7" cy="1229.7" r="1.7" fill="#1f4f1f"/>
<circle cx="1183.4" cy="1229.7" r="1.7" fill="#1f4f1f"/>
<circle cx="1214.2" cy="1229.7" r="1.7" fill="#1f4f1f"/>
<circle cx="1244.9" cy="1264.0" r="1.7" fill="#1f4f1f"/>
<circle cx="1275.6" cy="1333.6" r="1.7" fill="#1f4f1f"/>
<circle cx="1306.3" cy="1419.1" r="1.7" fill="#1f4f1f"/>
<circle cx="1337.1" cy="1466.7" r="1.7" fill="#1f4f1f"/>
<circle cx="1367.8" cy="1469.7" r="1.7" fill="#1f4f1f"/>
<polyline points="753.2,1229.7 783.9,1229.7 814.7,1229.7 845.4,1229.7 876.1,1229.7 906.9,1229.7 937.6,1229.7 968.3,1229.7 999.0,1229.7 1029.8,1229.7 1060.5,1229.7 1091.2,1229.7 1122.0,1229.7 1152.7,1229.7 1183.4,1229.7 1214.2,1229.7 1244.9,1247.4 1275.6,1280.3 1306.3,1313.7 1337.1,1342.0 1367.8,1359.2" fill="none" stroke="#3c9aaa" stroke-width="1.3" stroke-linejoin="round"/>
<circle cx="753.2" cy="1229.7" r="1.7" fill="#15454a"/>
<circle cx="783.9" cy="1229.7" r="1.7" fill="#15454a"/>
<circle cx="814.7" cy="1229.7" r="1.7" fill="#15454a"/>
<circle cx="845.4" cy="1229.7" r="1.7" fill="#15454a"/>
<circle cx="876.1" cy="1229.7" r="1.7" fill="#15454a"/>
<circle cx="906.9" cy="1229.7" r="1.7" fill="#15454a"/>
<circle cx="937.6" cy="1229.7" r="1.7" fill="#15454a"/>
<circle cx="968.3" cy="1229.7" r="1.7" fill="#15454a"/>
<circle cx="999.0" cy="1229.7" r="1.7" fill="#15454a"/>
<circle cx="1029.8" cy="1229.7" r="1.7" fill="#15454a"/>
<circle cx="1060.5" cy="1229.7" r="1.7" fill="#15454a"/>
<circle cx="1091.2" cy="1229.7" r="1.7" fill="#15454a"/>
<circle cx="1122.0" cy="1229.7" r="1.7" fill="#15454a"/>
<circle cx="1152.7" cy="1229.7" r="1.7" fill="#15454a"/>
<circle cx="1183.4" cy="1229.7" r="1.7" fill="#15454a"/>
<circle cx="1214.2" cy="1229.7" r="1.7" fill="#15454a"/>
<circle cx="1244.9" cy="1247.4" r="1.7" fill="#15454a"/>
<circle cx="1275.6" cy="1280.3" r="1.7" fill="#15454a"/>
<circle cx="1306.3" cy="1313.7" r="1.7" fill="#15454a"/>
<circle cx="1337.1" cy="1342.0" r="1.7" fill="#15454a"/>
<circle cx="1367.8" cy="1359.2" r="1.7" fill="#15454a"/>
<polyline points="753.2,1504.4 783.9,1504.4 814.7,1504.4 845.4,1504.4 876.1,1504.4 906.9,1504.4 937.6,1504.4 968.3,1504.4 999.0,1504.4 1029.8,1504.4 1060.5,1504.4 1091.2,1504.4 1122.0,1504.4 1152.7,1504.4 1183.4,1504.4 1214.2,1504.4 1244.9,1504.4 1275.6,1504.4 1306.3,1504.4 1337.1,1504.4 1367.8,1504.4" fill="none" stroke="#b040d8" stroke-width="1.3" stroke-linejoin="round"/>
<circle cx="753.2" cy="1504.4" r="1.7" fill="#4a1060"/>
<circle cx="783.9" cy="1504.4" r="1.7" fill="#4a1060"/>
<circle cx="814.7" cy="1504.4" r="1.7" fill="#4a1060"/>
<circle cx="845.4" cy="1504.4" r="1.7" fill="#4a1060"/>
<circle cx="876.1" cy="1504.4" r="1.7" fill="#4a1060"/>
<circle cx="906.9" cy="1504.4" r="1.7" fill="#4a1060"/>
<circle cx="937.6" cy="1504.4" r="1.7" fill="#4a1060"/>
<circle cx="968.3" cy="1504.4" r="1.7" fill="#4a1060"/>
<circle cx="999.0" cy="1504.4" r="1.7" fill="#4a1060"/>
<circle cx="1029.8" cy="1504.4" r="1.7" fill="#4a1060"/>
<circle cx="1060.5" cy="1504.4" r="1.7" fill="#4a1060"/>
<circle cx="1091.2" cy="1504.4" r="1.7" fill="#4a1060"/>
<circle cx="1122.0" cy="1504.4" r="1.7" fill="#4a1060"/>
<circle cx="1152.7" cy="1504.4" r="1.7" fill="#4a1060"/>
<circle cx="1183.4" cy="1504.4" r="1.7" fill="#4a1060"/>
<circle cx="1214.2" cy="1504.4" r="1.7" fill="#4a1060"/>
<circle cx="1244.9" cy="1504.4" r="1.7" fill="#4a1060"/>
<circle cx="1275.6" cy="1504.4" r="1.7" fill="#4a1060"/>
<circle cx="1306.3" cy="1504.4" r="1.7" fill="#4a1060"/>
<circle cx="1337.1" cy="1504.4" r="1.7" fill="#4a1060"/>
<circle cx="1367.8" cy="1504.4" r="1.7" fill="#4a1060"/>
<polyline points="753.2,1504.4 783.9,1504.4 814.7,1504.4 845.4,1504.4 876.1,1504.4 906.9,1504.4 937.6,1504.4 968.3,1504.4 999.0,1504.4 1029.8,1504.4 1060.5,1504.4 1091.2,1504.4 1122.0,1504.4 1152.7,1504.4 1183.4,1504.4 1214.2,1504.4 1244.9,1487.8 1275.6,1449.7 1306.3,1398.3 1337.1,1378.3 1367.8,1392.6" fill="none" stroke="#d84040" stroke-width="1.3" stroke-linejoin="round"/>
<circle cx="753.2" cy="1504.4" r="1.7" fill="#5a1010"/>
<circle cx="783.9" cy="1504.4" r="1.7" fill="#5a1010"/>
<circle cx="814.7" cy="1504.4" r="1.7" fill="#5a1010"/>
<circle cx="845.4" cy="1504.4" r="1.7" fill="#5a1010"/>
<circle cx="876.1" cy="1504.4" r="1.7" fill="#5a1010"/>
<circle cx="906.9" cy="1504.4" r="1.7" fill="#5a1010"/>
<circle cx="937.6" cy="1504.4" r="1.7" fill="#5a1010"/>
<circle cx="968.3" cy="1504.4" r="1.7" fill="#5a1010"/>
<circle cx="999.0" cy="1504.4" r="1.7" fill="#5a1010"/>
<circle cx="1029.8" cy="1504.4" r="1.7" fill="#5a1010"/>
<circle cx="1060.5" cy="1504.4" r="1.7" fill="#5a1010"/>
<circle cx="1091.2" cy="1504.4" r="1.7" fill="#5a1010"/>
<circle cx="1122.0" cy="1504.4" r="1.7" fill="#5a1010"/>
<circle cx="1152.7" cy="1504.4" r="1.7" fill="#5a1010"/>
<circle cx="1183.4" cy="1504.4" r="1.7" fill="#5a1010"/>
<circle cx="1214.2" cy="1504.4" r="1.7" fill="#5a1010"/>
<circle cx="1244.9" cy="1487.8" r="1.7" fill="#5a1010"/>
<circle cx="1275.6" cy="1449.7" r="1.7" fill="#5a1010"/>
<circle cx="1306.3" cy="1398.3" r="1.7" fill="#5a1010"/>
<circle cx="1337.1" cy="1378.3" r="1.7" fill="#5a1010"/>
<circle cx="1367.8" cy="1392.6" r="1.7" fill="#5a1010"/>
<polyline points="753.2,1504.4 783.9,1504.4 814.7,1504.4 845.4,1504.4 876.1,1504.4 906.9,1504.4 937.6,1504.4 968.3,1504.4 999.0,1504.4 1029.8,1504.4 1060.5,1504.4 1091.2,1504.4 1122.0,1504.4 1152.7,1504.4 1183.4,1504.4 1214.2,1504.4 1244.9,1492.8 1275.6,1468.6 1306.3,1442.9 1337.1,1416.9 1367.8,1405.1" fill="none" stroke="#4444dd" stroke-width="1.3" stroke-linejoin="round"/>
<circle cx="753.2" cy="1504.4" r="1.7" fill="#14145a"/>
<circle cx="783.9" cy="1504.4" r="1.7" fill="#14145a"/>
<circle cx="814.7" cy="1504.4" r="1.7" fill="#14145a"/>
<circle cx="845.4" cy="1504.4" r="1.7" fill="#14145a"/>
<circle cx="876.1" cy="1504.4" r="1.7" fill="#14145a"/>
<circle cx="906.9" cy="1504.4" r="1.7" fill="#14145a"/>
<circle cx="937.6" cy="1504.4" r="1.7" fill="#14145a"/>
<circle cx="968.3" cy="1504.4" r="1.7" fill="#14145a"/>
<circle cx="999.0" cy="1504.4" r="1.7" fill="#14145a"/>
<circle cx="1029.8" cy="1504.4" r="1.7" fill="#14145a"/>
<circle cx="1060.5" cy="1504.4" r="1.7" fill="#14145a"/>
<circle cx="1091.2" cy="1504.4" r="1.7" fill="#14145a"/>
<circle cx="1122.0" cy="1504.4" r="1.7" fill="#14145a"/>
<circle cx="1152.7" cy="1504.4" r="1.7" fill="#14145a"/>
<circle cx="1183.4" cy="1504.4" r="1.7" fill="#14145a"/>
<circle cx="1214.2" cy="1504.4" r="1.7" fill="#14145a"/>
<circle cx="1244.9" cy="1492.8" r="1.7" fill="#14145a"/>
<circle cx="1275.6" cy="1468.6" r="1.7" fill="#14145a"/>
<circle cx="1306.3" cy="1442.9" r="1.7" fill="#14145a"/>
<circle cx="1337.1" cy="1416.9" r="1.7" fill="#14145a"/>
<circle cx="1367.8" cy="1405.1" r="1.7" fill="#14145a"/>
<polyline points="753.2,1504.4 783.9,1504.4 814.7,1504.4 845.4,1504.4 876.1,1504.4 906.9,1504.4 937.6,1504.4 968.3,1504.4 999.0,1504.4 1029.8,1504.4 1060.5,1504.4 1091.2,1504.4 1122.0,1504.4 1152.7,1504.4 1183.4,1504.4 1214.2,1504.4 1244.9,1506.0 1275.6,1507.8 1306.3,1511.0 1337.1,1511.7 1367.8,1512.8" fill="none" stroke="#d88040" stroke-width="1.3" stroke-linejoin="round"/>
<circle cx="753.2" cy="1504.4" r="1.7" fill="#5a3010"/>
<circle cx="783.9" cy="1504.4" r="1.7" fill="#5a3010"/>
<circle cx="814.7" cy="1504.4" r="1.7" fill="#5a3010"/>
<circle cx="845.4" cy="1504.4" r="1.7" fill="#5a3010"/>
<circle cx="876.1" cy="1504.4" r="1.7" fill="#5a3010"/>
<circle cx="906.9" cy="1504.4" r="1.7" fill="#5a3010"/>
<circle cx="937.6" cy="1504.4" r="1.7" fill="#5a3010"/>
<circle cx="968.3" cy="1504.4" r="1.7" fill="#5a3010"/>
<circle cx="999.0" cy="1504.4" r="1.7" fill="#5a3010"/>
<circle cx="1029.8" cy="1504.4" r="1.7" fill="#5a3010"/>
<circle cx="1060.5" cy="1504.4" r="1.7" fill="#5a3010"/>
<circle cx="1091.2" cy="1504.4" r="1.7" fill="#5a3010"/>
<circle cx="1122.0" cy="1504.4" r="1.7" fill="#5a3010"/>
<circle cx="1152.7" cy="1504.4" r="1.7" fill="#5a3010"/>
<circle cx="1183.4" cy="1504.4" r="1.7" fill="#5a3010"/>
<circle cx="1214.2" cy="1504.4" r="1.7" fill="#5a3010"/>
<circle cx="1244.9" cy="1506.0" r="1.7" fill="#5a3010"/>
<circle cx="1275.6" cy="1507.8" r="1.7" fill="#5a3010"/>
<circle cx="1306.3" cy="1511.0" r="1.7" fill="#5a3010"/>
<circle cx="1337.1" cy="1511.7" r="1.7" fill="#5a3010"/>
<circle cx="1367.8" cy="1512.8" r="1.7" fill="#5a3010"/>
<text transform="translate(697.00 1369.20) rotate(-90) scale(0.770 1)" font-size="14" font-weight="bold" text-anchor="middle" fill="#2a2a2a">[J]</text>
<text transform="translate(1061.90 1555.70) scale(0.930 1)" font-size="12.9" font-weight="bold" text-anchor="middle" fill="#2a2a2a">[s]</text>
<text x="955" y="39.2" font-size="36" font-weight="bold" fill="#000" stroke="#000" stroke-width="0.9" textLength="125.6" lengthAdjust="spacingAndGlyphs">Elastic</text>
<text x="1089.6" y="39.2" font-size="36" font-weight="bold" fill="#000" stroke="#000" stroke-width="0.9" textLength="117.4" lengthAdjust="spacingAndGlyphs">Strain</text>
<text x="880" y="395.5" font-size="36" font-weight="bold" fill="#000" stroke="#000" stroke-width="0.9" textLength="119" lengthAdjust="spacingAndGlyphs">Stress</text>
<text x="252.2" y="780" font-size="36" font-weight="bold" fill="#000" stroke="#000" stroke-width="0.9" textLength="255" lengthAdjust="spacingAndGlyphs">Deformation</text>
<text x="945.5" y="780" font-size="36" font-weight="bold" fill="#000" stroke="#000" stroke-width="0.9" textLength="157" lengthAdjust="spacingAndGlyphs">Velocity</text>
<text x="253.4" y="1204" font-size="36" font-weight="bold" fill="#000" stroke="#000" stroke-width="0.9" textLength="282.5" lengthAdjust="spacingAndGlyphs">Kinetic Energy</text>
<text x="945.5" y="1204" font-size="36" font-weight="bold" fill="#000" stroke="#000" stroke-width="0.9" textLength="134.2" lengthAdjust="spacingAndGlyphs">Energy</text>
<text x="1088" y="1204" font-size="36" font-weight="bold" fill="#000" stroke="#000" stroke-width="0.9" textLength="119" lengthAdjust="spacingAndGlyphs">probe</text>
<text x="44.6" y="93" font-size="38" font-weight="bold" fill="#000" stroke="#000" stroke-width="0.9" textLength="51.2" lengthAdjust="spacingAndGlyphs">(a)</text>
<text x="413.5" y="93.6" font-size="38" font-weight="bold" fill="#f4ee00" stroke="#f4ee00" stroke-width="0.9" textLength="52.5" lengthAdjust="spacingAndGlyphs">(b)</text>
<text x="832.9" y="107.8" font-size="38" font-weight="bold" fill="#000" stroke="#000" stroke-width="0.9" textLength="46.4" lengthAdjust="spacingAndGlyphs">(c)</text>
<text x="123.7" y="449.4" font-size="38" font-weight="bold" fill="#000" stroke="#000" stroke-width="0.9" textLength="53.6" lengthAdjust="spacingAndGlyphs">(d)</text>
<text x="656.7" y="451" font-size="38" font-weight="bold" fill="#000" stroke="#000" stroke-width="0.9" textLength="50.5" lengthAdjust="spacingAndGlyphs">(e)</text>
<text x="109" y="835" font-size="38" font-weight="bold" fill="#000" stroke="#000" stroke-width="0.9" textLength="43.7" lengthAdjust="spacingAndGlyphs">(f)</text>
<text x="785.2" y="862.3" font-size="38" font-weight="bold" fill="#000" stroke="#000" stroke-width="0.9" textLength="49.6" lengthAdjust="spacingAndGlyphs">(g)</text>
<text x="109.7" y="1287" font-size="38" font-weight="bold" fill="#000" stroke="#000" stroke-width="0.9" textLength="51.6" lengthAdjust="spacingAndGlyphs">(h)</text>
<text x="785.2" y="1287.1" font-size="38" font-weight="bold" fill="#000" stroke="#000" stroke-width="0.9" textLength="38" lengthAdjust="spacingAndGlyphs">(i)</text>
<rect x="5.8" y="5.6" width="1383.8" height="1576.4" fill="none" stroke="#000" stroke-width="3.4" rx="2"/>
</svg>
</body></html>
